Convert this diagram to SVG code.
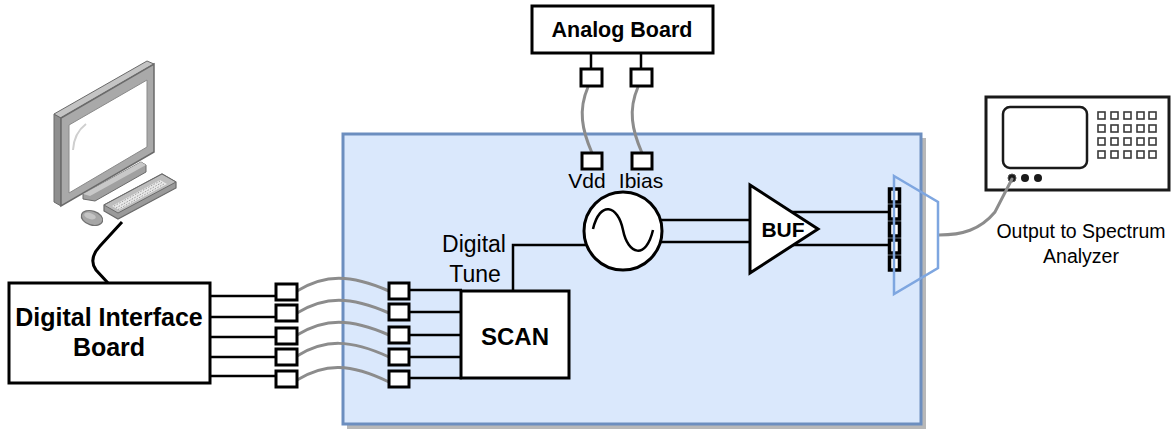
<svg xmlns="http://www.w3.org/2000/svg" width="1172" height="432" viewBox="0 0 1172 432">
  <style>
    .box { fill: #ffffff; stroke: #000000; stroke-width: 3; }
    .pin { fill: #ffffff; stroke: #000000; stroke-width: 3; }
    .wire { fill: none; stroke: #000000; stroke-width: 2.5; }
    .cable { fill: none; stroke: #8c8c8c; stroke-width: 3; stroke-linecap: round; }
    .bold { font-family: "Liberation Sans", Arial, sans-serif; font-weight: bold; fill: #000000; text-anchor: middle; }
    .label { font-family: "Liberation Sans", Arial, sans-serif; fill: #000000; text-anchor: middle; }
    .key { fill: #ffffff; stroke: #3a3a3a; stroke-width: 1.6; }
  </style>

  <!-- chip under test: blue board with drop shadow -->
  <g id="chip">
    <rect x="347" y="138" width="579" height="291" fill="#b8b8b8"/>
    <rect x="343" y="134" width="578" height="290" fill="#dae8fc" stroke="#6c8ebf" stroke-width="3"/>
  </g>

  <!-- desktop computer -->
  <g id="computer">
    <!-- monitor side and top faces -->
    <polygon points="54,114 61,118 61,206 54,202" fill="#8e8e8e" stroke="#6a6a6a" stroke-width="1"/>
    <polygon points="54,114 147,61 154,64 61,118" fill="#c4c4c4" stroke="#6a6a6a" stroke-width="1"/>
    <!-- bezel -->
    <polygon points="61,118 154,64 154,152 61,206" fill="#a9a9a9" stroke="#6a6a6a" stroke-width="1.5"/>
    <!-- screen -->
    <polygon points="69,125 147,80 147,147 69,193" fill="#ffffff" stroke="#8a8a8a" stroke-width="1"/>
    <path d="M73,150 Q74,133 86,124" fill="none" stroke="#cfcfcf" stroke-width="2"/>
    <!-- stand -->
    <polygon points="83,194 141,162 146,165 146,172 95,201 83,199" fill="#a0a0a0" stroke="#6a6a6a" stroke-width="1"/>
    <polygon points="83,194 141,162 146,165 90,196" fill="#c8c8c8"/>
    <!-- keyboard -->
    <polygon points="104,205 162,174 176,182 176,188 118,219 104,211" fill="#9a9a9a" stroke="#6a6a6a" stroke-width="1.2"/>
    <polygon points="104,205 162,174 176,182 118,213" fill="#bdbdbd" stroke="#6a6a6a" stroke-width="1"/>
    <polygon points="112,206 160,180 167,184 119,210" fill="#e8e8e8"/>
    <path d="M114,206 L160,181 M116,208 L162,182.5 M118,209.5 L164,184" stroke="#9a9a9a" stroke-width="1" stroke-dasharray="1.5,1.5"/>
    <!-- mouse -->
    <ellipse cx="92" cy="218" rx="11" ry="7" transform="rotate(18 92 218)" fill="#a6a6a6" stroke="#707070" stroke-width="1.2"/>
    <ellipse cx="90" cy="216" rx="6" ry="3" transform="rotate(18 90 216)" fill="#c4c4c4"/>
  </g>

  <!-- spectrum analyzer -->
  <g id="analyzer">
    <rect x="986" y="97" width="183" height="93" fill="#ffffff" stroke="#1a1a1a" stroke-width="3"/>
    <rect x="1003" y="107" width="84" height="61" rx="7" fill="#ffffff" stroke="#1a1a1a" stroke-width="2.5"/>
    <g>
      <rect class="key" x="1098" y="112" width="7" height="7"/>
      <rect class="key" x="1111" y="112" width="7" height="7"/>
      <rect class="key" x="1124" y="112" width="7" height="7"/>
      <rect class="key" x="1137" y="112" width="7" height="7"/>
      <rect class="key" x="1149" y="112" width="7" height="7"/>
      <rect class="key" x="1098" y="125" width="7" height="7"/>
      <rect class="key" x="1111" y="125" width="7" height="7"/>
      <rect class="key" x="1124" y="125" width="7" height="7"/>
      <rect class="key" x="1137" y="125" width="7" height="7"/>
      <rect class="key" x="1149" y="125" width="7" height="7"/>
      <rect class="key" x="1098" y="138" width="7" height="7"/>
      <rect class="key" x="1111" y="138" width="7" height="7"/>
      <rect class="key" x="1124" y="138" width="7" height="7"/>
      <rect class="key" x="1137" y="138" width="7" height="7"/>
      <rect class="key" x="1149" y="138" width="7" height="7"/>
      <rect class="key" x="1098" y="151" width="7" height="7"/>
      <rect class="key" x="1111" y="151" width="7" height="7"/>
      <rect class="key" x="1124" y="151" width="7" height="7"/>
      <rect class="key" x="1137" y="151" width="7" height="7"/>
      <rect class="key" x="1149" y="151" width="7" height="7"/>
    </g>
    <circle cx="1012" cy="178" r="4" fill="#1a1a1a" stroke="#555555" stroke-width="1"/>
    <circle cx="1025" cy="178" r="4" fill="#1a1a1a"/>
    <circle cx="1038" cy="178" r="4" fill="#1a1a1a"/>
    <text class="label" x="1081" y="238" font-size="19.5">Output to Spectrum</text>
    <text class="label" x="1081" y="263" font-size="19.5">Analyzer</text>
  </g>

  <!-- connectors -->
  <g id="connectors">
    <!-- computer to interface board -->
    <path d="M122,222 L100,246 Q88,259 96,270 L108,283" fill="none" stroke="#000000" stroke-width="3"/>
    <!-- interface board to its pins -->
    <line class="wire" x1="210" y1="296" x2="277" y2="296"/>
    <line class="wire" x1="210" y1="317" x2="277" y2="317"/>
    <line class="wire" x1="210" y1="337" x2="277" y2="337"/>
    <line class="wire" x1="210" y1="357" x2="277" y2="357"/>
    <line class="wire" x1="210" y1="376" x2="277" y2="376"/>
    <!-- ribbon into the chip -->
    <path class="cable" d="M297,291 C325,274 350,274 389,291"/>
    <path class="cable" d="M297,313 C325,296 350,296 389,313"/>
    <path class="cable" d="M297,335 C325,318 350,318 389,335"/>
    <path class="cable" d="M297,356 C325,339 350,339 389,357"/>
    <path class="cable" d="M297,380 C325,363 350,363 389,382"/>
    <!-- chip pins to SCAN -->
    <line class="wire" x1="409" y1="290" x2="462" y2="290"/>
    <line class="wire" x1="409" y1="312" x2="462" y2="312"/>
    <line class="wire" x1="409" y1="335" x2="462" y2="335"/>
    <line class="wire" x1="409" y1="357" x2="462" y2="357"/>
    <line class="wire" x1="409" y1="378" x2="462" y2="378"/>
    <!-- digital tune -->
    <polyline class="wire" points="513,291 513,245 586,245"/>
    <!-- analog board stubs and supply cables -->
    <line class="wire" x1="591" y1="53" x2="591" y2="69"/>
    <line class="wire" x1="641" y1="53" x2="641" y2="69"/>
    <path class="cable" d="M588,87 C578,110 582,130 592,153"/>
    <path class="cable" d="M638,87 C628,110 632,130 642,153"/>
    <!-- oscillator to buffer -->
    <line class="wire" x1="661" y1="220" x2="751" y2="220"/>
    <line class="wire" x1="661" y1="242" x2="751" y2="242"/>
    <!-- buffer to output pads -->
    <line class="wire" x1="792" y1="212" x2="893" y2="212"/>
    <line class="wire" x1="793" y1="245" x2="893" y2="245"/>
    <!-- output cable -->
    <path class="cable" d="M939,235 C962,235 980,230 995,212 L1012,179"/>
  </g>

  <g id="interface-board">
    <rect class="box" x="9" y="283" width="201" height="100"/>
    <text class="bold" x="109" y="326" font-size="25">Digital Interface</text>
    <text class="bold" x="109" y="356" font-size="25">Board</text>
  </g>

  <g id="board-pins">
    <rect class="pin" x="276" y="284" width="21" height="16"/>
    <rect class="pin" x="276" y="305" width="21" height="16"/>
    <rect class="pin" x="276" y="328" width="21" height="16"/>
    <rect class="pin" x="276" y="349" width="21" height="16"/>
    <rect class="pin" x="276" y="371" width="21" height="16"/>
  </g>

  <g id="chip-pins">
    <rect class="pin" x="389" y="283" width="20" height="16"/>
    <rect class="pin" x="389" y="304" width="20" height="16"/>
    <rect class="pin" x="389" y="327" width="20" height="16"/>
    <rect class="pin" x="389" y="349" width="20" height="16"/>
    <rect class="pin" x="389" y="371" width="20" height="16"/>
  </g>

  <g id="scan">
    <rect class="box" x="461" y="291" width="108" height="87"/>
    <text class="bold" x="515" y="345" font-size="24">SCAN</text>
  </g>

  <g id="digital-tune-label">
    <text class="label" x="474" y="252" font-size="23">Digital</text>
    <text class="label" x="475" y="282" font-size="23">Tune</text>
  </g>

  <g id="analog-board">
    <rect class="box" x="532" y="6" width="181" height="47"/>
    <text class="bold" x="622" y="37" font-size="21.5">Analog Board</text>
    <rect class="pin" x="581" y="69" width="21" height="17"/>
    <rect class="pin" x="631" y="69" width="21" height="17"/>
  </g>

  <g id="supply-pins">
    <rect class="pin" x="582" y="153" width="20" height="16"/>
    <rect class="pin" x="632" y="153" width="20" height="16"/>
    <text class="label" x="587" y="188" font-size="21">Vdd</text>
    <text class="label" x="641" y="188" font-size="21">Ibias</text>
  </g>

  <g id="oscillator">
    <circle cx="623" cy="231" r="39" fill="#ffffff" stroke="#000000" stroke-width="3"/>
    <path d="M593,229 C600,200 618,205 623,230 C628,255 646,260 653,230" fill="none" stroke="#000000" stroke-width="2.5"/>
  </g>

  <g id="buffer">
    <polygon points="750,185 750,273 818,229" fill="#ffffff" stroke="#000000" stroke-width="3" stroke-linejoin="miter"/>
    <text class="bold" x="783" y="237" font-size="21">BUF</text>
  </g>

  <g id="output-pads">
    <rect x="889.5" y="189" width="10" height="13" fill="#ffffff" stroke="#000000" stroke-width="3.5"/>
    <rect x="889.5" y="206" width="10" height="13" fill="#ffffff" stroke="#000000" stroke-width="3.5"/>
    <rect x="889.5" y="223" width="10" height="13" fill="#ffffff" stroke="#000000" stroke-width="3.5"/>
    <rect x="889.5" y="240" width="10" height="13" fill="#ffffff" stroke="#000000" stroke-width="3.5"/>
    <rect x="889.5" y="257" width="10" height="13" fill="#ffffff" stroke="#000000" stroke-width="3.5"/>
  </g>

  <g id="output-connector">
    <polygon points="894,176 938,202 938,268 894,294" fill="none" stroke="#7ea6e0" stroke-width="2.5"/>
  </g>
</svg>
